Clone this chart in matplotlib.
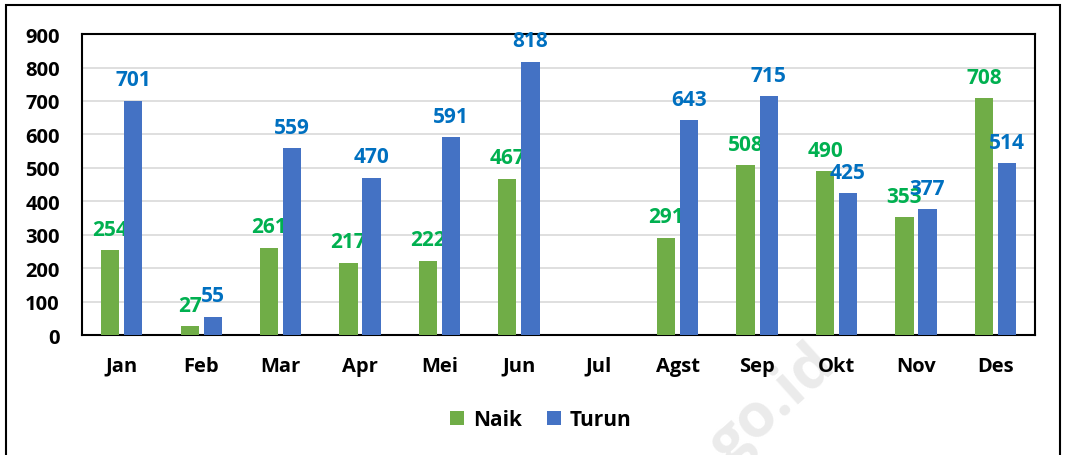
import numpy as np
import matplotlib.pyplot as plt

months = ['Jan', 'Feb', 'Mar', 'Apr', 'Mei', 'Jun', 'Jul', 'Agst', 'Sep', 'Okt', 'Nov', 'Des']
naik = [254, 27, 261, 217, 222, 467, None, 291, 508, 490, 353, 708]
turun = [701, 55, 559, 470, 591, 818, None, 643, 715, 425, 377, 514]

plt.rcParams['font.family'] = ['Open Sans', 'DejaVu Sans']
plt.rcParams['font.weight'] = 'bold'

fig = plt.figure(figsize=(10.66, 4.56), dpi=100)
ax = fig.add_axes([0.077, 0.263, 0.894, 0.660])
ax.set_zorder(2)

x = np.arange(len(months))
w = 0.23
off = 0.145
for i in range(len(months)):
    if naik[i] is not None:
        ax.bar(x[i] - off, naik[i], w, color='#70AD47', zorder=3)
        ax.annotate(str(naik[i]), (x[i] - off, naik[i]), xytext=(0, 7.5), textcoords='offset points',
                    ha='center', va='bottom', color='#00B050', fontsize=15, fontweight='bold')
    if turun[i] is not None:
        ax.bar(x[i] + off, turun[i], w, color='#4472C4', zorder=3)
        ax.annotate(str(turun[i]), (x[i] + off, turun[i]), xytext=(0, 7.5), textcoords='offset points',
                    ha='center', va='bottom', color='#0070C0', fontsize=15, fontweight='bold')

ax.set_xlim(-0.5, len(months) - 0.5)
ax.set_ylim(0, 900)
ax.set_yticks(range(0, 901, 100))
ax.set_xticks(x)
ax.set_xticklabels(months)
ax.tick_params(axis='both', length=0, labelsize=14.5)
ax.tick_params(axis='x', pad=15)
ax.tick_params(axis='y', pad=16)
ax.grid(axis='y', color='#D9D9D9', linewidth=1.2, zorder=0)
for s in ax.spines.values():
    s.set_color('black')
    s.set_linewidth(1.5)

# legend
ax.bar([0], [0], color='#70AD47', label='Naik')
ax.bar([0], [0], color='#4472C4', label='Turun')
leg = fig.legend(loc='center', bbox_to_anchor=(0.507, 0.077), ncol=2, frameon=False,
                 fontsize=15, handlelength=0.7, handleheight=0.7, columnspacing=1.2, handletextpad=0.4)
leg.set_zorder(3)

# watermark
fig.text(0.725, 0.11, 'go.id', rotation=42, fontsize=44, color='#EBEBEB', ha='center', va='center',
         fontweight='bold', zorder=0)

# outer frame
fig.add_artist(plt.Rectangle((0.006, -0.05), 0.988, 1.036, transform=fig.transFigure,
                             fill=False, edgecolor='black', linewidth=1.5))

fig.savefig('out.png', dpi=100)
